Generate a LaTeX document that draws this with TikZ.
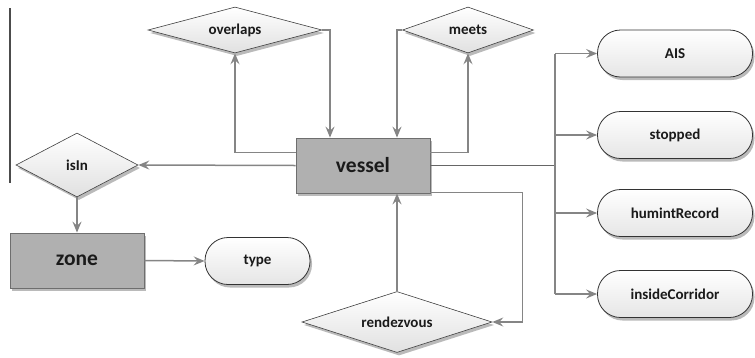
\documentclass[tikz,border=0pt]{standalone}
\usepackage{fontspec}
\setmainfont{Carlito}
\usetikzlibrary{shapes.geometric,shadows,arrows.meta}
\definecolor{linec}{HTML}{858585}
\definecolor{entfill}{HTML}{B0B0B0}
\definecolor{entdraw}{HTML}{6E6E6E}
\definecolor{txt}{HTML}{1A1A1A}
\begin{document}
\begin{tikzpicture}[x=1pt,y=-1pt,
  shad/.style={drop shadow={shadow xshift=2pt,shadow yshift=-3pt,opacity=0.45,fill=black!60}},
  entity/.style={rectangle,draw=entdraw,line width=0.8pt,fill=entfill,shad,
    minimum width=134pt,minimum height=55pt,inner sep=0pt,
    font=\fontsize{21.5}{24}\selectfont\bfseries,text=txt},
  rel/.style={diamond,draw=black!75,line width=0.6pt,top color=white,bottom color=black!12,shad,
    inner sep=0pt,font=\fontsize{15}{17}\selectfont\bfseries,text=txt},
  attr/.style={rectangle,rounded corners=23pt,draw=black!80,line width=0.8pt,
    top color=white,bottom color=black!10,shad,inner sep=0pt,
    minimum height=47pt,font=\fontsize{15}{17}\selectfont\bfseries,text=txt},
  conn/.style={draw=linec,line width=1.5pt,-{Stealth[length=11pt,width=9pt,inset=4pt,fill=linec]}},
  wire/.style={draw=linec,line width=1.5pt}
]
\useasboundingbox (0,0) rectangle (755,357);
% left rule
\draw[draw=black!70,line width=1.2pt] (10,8) -- (10,183);
% entities
\node[entity] (vessel) at (363,165.5) {vessel};
\node[entity] (zone) at (77,260.5) {zone};
% relationships
\node[rel,minimum width=174pt,minimum height=46pt,aspect=3.78] (overlaps) at (235,30) {overlaps};
\node[rel,minimum width=131pt,minimum height=46pt,aspect=2.85] (meets) at (468,30) {meets};
\node[rel,minimum width=122pt,minimum height=64pt,aspect=1.9] (isIn) at (77,165) {isIn};
\node[rel,minimum width=190pt,minimum height=61pt,aspect=3.1] (rendezvous) at (397,322) {rendezvous};
% attributes
\node[attr,minimum width=105pt] (type) at (257.5,261) {type};
\node[attr,minimum width=155pt] (AIS) at (675,53.5) {AIS};
\node[attr,minimum width=155pt] (stopped) at (675,135) {stopped};
\node[attr,minimum width=155pt] (humintRecord) at (675,213) {humintRecord};
\node[attr,minimum width=155pt] (insideCorridor) at (675,294) {insideCorridor};
% connectors
\draw[conn] ([yshift=13pt]vessel.west) -| (overlaps.south);
\draw[conn] (overlaps.east) -| ([xshift=-33pt]vessel.north);
\draw[conn] (meets.west) -| ([xshift=34pt]vessel.north);
\draw[conn] ([yshift=13pt]vessel.east) -| (meets.south);
\draw[conn] (vessel.west) -- (isIn.east);
\draw[conn] (isIn.south) -- (zone.north);
\draw[conn] (zone.east) -- (type.west);
\draw[conn] (rendezvous.north) -- (rendezvous.north |- vessel.south);
\draw[conn] ([yshift=1pt]vessel.south east) -- ++(92,0) |- (rendezvous.east);
\coordinate (bus) at (555,165.5);
\draw[wire,draw=black!60,line width=1.8pt] (vessel.east) -- (bus);
\draw[wire] (bus |- AIS.west) -- (bus |- insideCorridor.west);
\draw[conn] (bus |- AIS.west) -- (AIS.west);
\draw[conn] (bus |- stopped.west) -- (stopped.west);
\draw[conn] (bus |- humintRecord.west) -- (humintRecord.west);
\draw[conn] (bus |- insideCorridor.west) -- (insideCorridor.west);
\end{tikzpicture}
\end{document}
